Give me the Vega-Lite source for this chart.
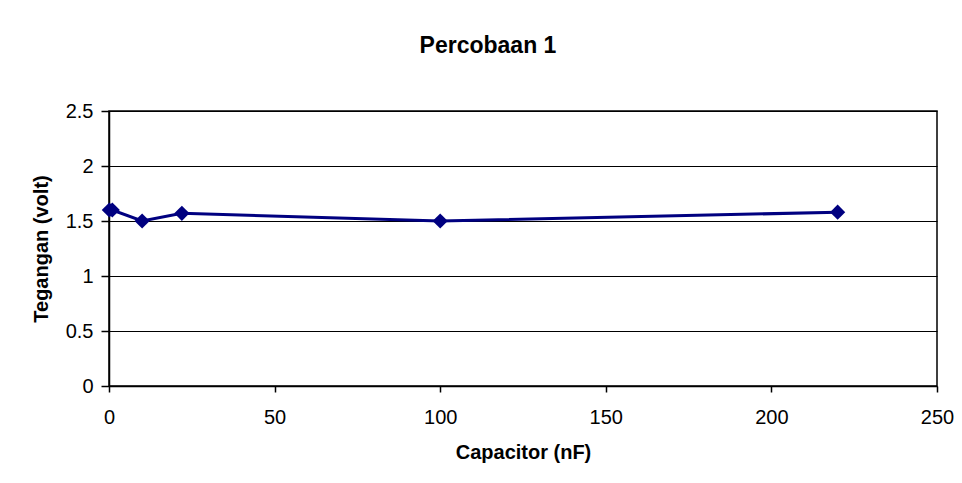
{
  "$schema": "https://vega.github.io/schema/vega-lite/v6.json",
  "autosize": "none",
  "width": 828,
  "height": 275,
  "padding": {"left": 109, "top": 111, "right": 25, "bottom": 97},
  "background": "white",
  "title": {
    "text": "Percobaan 1",
    "font": "Liberation Sans",
    "fontSize": 23,
    "fontWeight": "bold",
    "color": "black",
    "anchor": "middle",
    "baseline": "alphabetic",
    "offset": 25,
    "dx": -35
  },
  "data": {
    "values": [
      {"cap": 0.1, "volt": 1.6},
      {"cap": 1, "volt": 1.6},
      {"cap": 10, "volt": 1.5},
      {"cap": 22, "volt": 1.57},
      {"cap": 100, "volt": 1.5},
      {"cap": 220, "volt": 1.58}
    ]
  },
  "config": {
    "view": {"stroke": "black", "strokeWidth": 1.5},
    "axis": {
      "labelFont": "Liberation Sans",
      "labelFontSize": 20,
      "labelColor": "black",
      "labelFlush": false,
      "titleFont": "Liberation Sans",
      "titleFontSize": 20,
      "titleFontWeight": "bold",
      "titleColor": "black",
      "domainColor": "black",
      "domainWidth": 1.5,
      "tickColor": "black",
      "tickWidth": 1.5
    }
  },
  "layer": [
    {
      "mark": {"type": "line", "color": "#000080", "strokeWidth": 3},
      "encoding": {
        "x": {"field": "cap", "type": "quantitative"},
        "y": {"field": "volt", "type": "quantitative"}
      }
    },
    {
      "mark": {"type": "point", "shape": "diamond", "filled": true, "color": "#000080", "size": 230, "opacity": 1},
      "encoding": {
        "x": {
          "field": "cap",
          "type": "quantitative",
          "title": "Capacitor (nF)",
          "scale": {"domain": [0, 250], "nice": false},
          "axis": {
            "values": [0, 50, 100, 150, 200, 250],
            "grid": false,
            "tickSize": 6,
            "labelPadding": 15,
            "titlePadding": 15
          }
        },
        "y": {
          "field": "volt",
          "type": "quantitative",
          "title": "Tegangan (volt)",
          "scale": {"domain": [0, 2.5], "nice": false},
          "axis": {
            "values": [0, 0.5, 1, 1.5, 2, 2.5],
            "format": "~g",
            "grid": true,
            "gridColor": "black",
            "gridWidth": 1.2,
            "gridOpacity": 1,
            "tickSize": 8,
            "labelPadding": 8,
            "titlePadding": 14
          }
        }
      }
    }
  ]
}
